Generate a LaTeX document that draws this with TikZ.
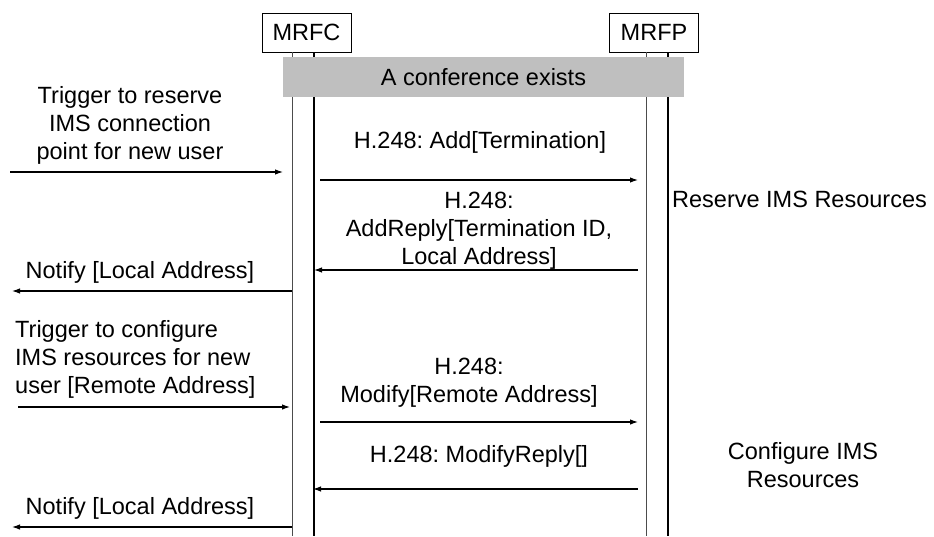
\documentclass[tikz,border=0pt]{standalone}
\usepackage{fontspec}
\setmainfont{Liberation Sans}
\usetikzlibrary{arrows.meta}
\begin{document}
\frenchspacing
\begin{tikzpicture}[x=1pt,y=-1pt,
  font=\fontsize{23.5}{28}\selectfont,
  ent/.style={draw, line width=0.9pt, minimum width=89pt, minimum height=39pt, inner sep=0pt},
  lifeA/.style={line width=0.9pt, black!70},
  lifeB/.style={line width=1.1pt, black},
  msg/.style={line width=1.1pt, -{Latex[length=8pt,width=5.5pt]}},
  lbl/.style={inner sep=0pt, anchor=base, align=center},
  lbll/.style={inner sep=0pt, anchor=base west, align=left},
  bar/.style={fill=black!25, minimum width=401pt, minimum height=40pt, inner sep=0pt}]
\useasboundingbox (0,0) rectangle (934,536);
% entities
\node[ent] (mrfc) at (306.5,32.5) {MRFC};
\node[ent] (mrfp) at (654,32.5) {MRFP};
% lifelines
\coordinate (c1t) at (292,52);  \coordinate (c1b) at (292,536);
\coordinate (c2t) at (314,52);  \coordinate (c2b) at (314,536);
\coordinate (p1t) at (646,52);  \coordinate (p1b) at (646,536);
\coordinate (p2t) at (668,52);  \coordinate (p2b) at (668,536);
\draw[lifeA] (c1t) -- (c1b);
\draw[lifeB] (c2t) -- (c2b);
\draw[lifeA] (p1t) -- (p1b);
\draw[lifeB] (p2t) -- (p2b);
% conference bar
\node[bar] (conf) at (483.5,77) {A conference exists};
% message end points
\coordinate (t1s) at (10,172);  \coordinate (t1e) at (283,172);
\coordinate (a1s) at (320,180); \coordinate (a1e) at (638,180);
\coordinate (r1s) at (638,270); \coordinate (r1e) at (314,270);
\coordinate (n1s) at (292,291); \coordinate (n1e) at (12,291);
\coordinate (t2s) at (18,407);  \coordinate (t2e) at (290,407);
\coordinate (m1s) at (320,422); \coordinate (m1e) at (638,422);
\coordinate (r2s) at (638,489); \coordinate (r2e) at (313,489);
\coordinate (n2s) at (292,527); \coordinate (n2e) at (12,527);
\draw[msg] (t1s) -- (t1e);
\draw[msg] (a1s) -- (a1e);
\draw[msg] (r1s) -- (r1e);
\draw[msg] (n1s) -- (n1e);
\draw[msg] (t2s) -- (t2e);
\draw[msg] (m1s) -- (m1e);
\draw[msg] (r2s) -- (r2e);
\draw[msg] (n2s) -- (n2e);
% labels (base anchor = baseline of the last line)
\node[lbl] (lt1) at (130,159) {Trigger to reserve\\IMS connection\\point for new user};
\node[lbl] (ln1) at (140,278) {Notify [Local Address]};
\node[lbll] (lt2) at (15,393) {Trigger to configure\\IMS resources for new\\user [Remote Address]};
\node[lbl] (ln2) at (140,514) {Notify [Local Address]};
\node[lbl] (la1) at (480,148) {H.248: Add[Termination]};
\node[lbl] (lr1) at (479,264) {H.248:\\AddReply[Termination ID,\\Local Address]};
\node[lbl] (lm1) at (469,402) {H.248:\\Modify[Remote Address]};
\node[lbl] (lr2) at (479,462) {H.248: ModifyReply[]};
\node[lbll] (lres) at (672,207) {Reserve IMS Resources};
\node[lbl] (lcfg) at (803,487) {Configure IMS\\Resources};
\end{tikzpicture}
\end{document}
